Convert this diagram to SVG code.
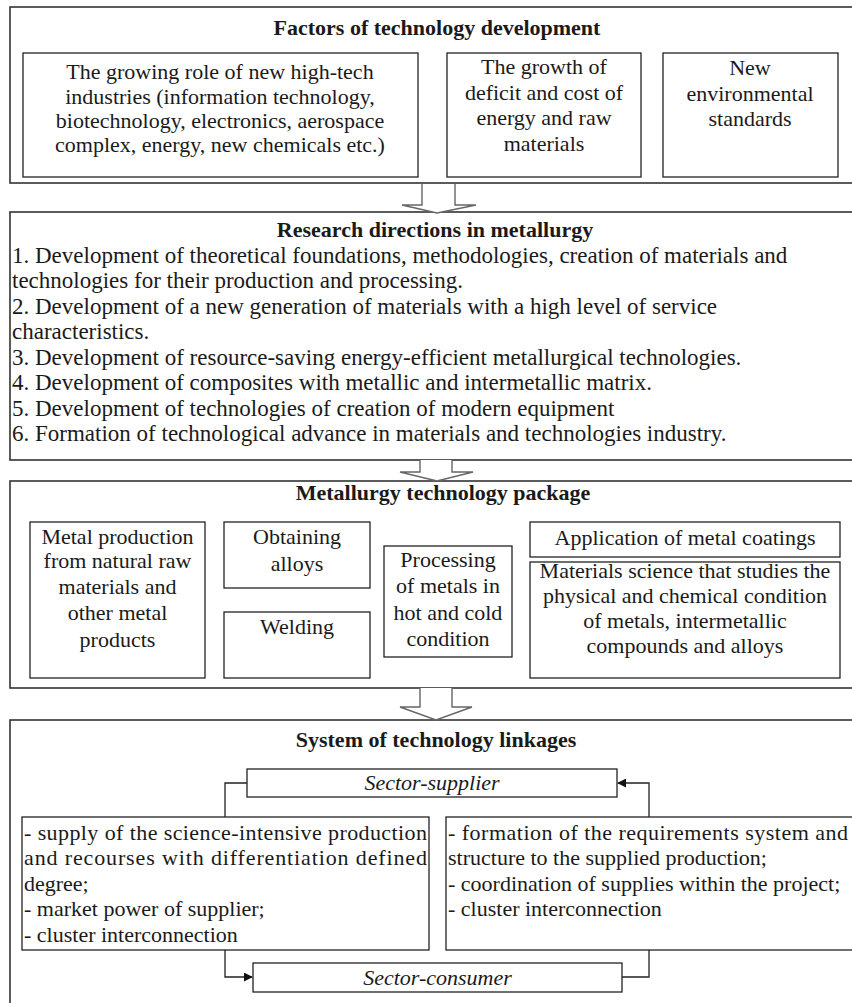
<svg xmlns="http://www.w3.org/2000/svg" width="852" height="1003" viewBox="0 0 852 1003" font-family="'Liberation Serif', Tinos, 'Times New Roman', 'DejaVu Serif', serif">
  <defs>
    <style>
      .panel { fill: #ffffff; stroke: #333333; stroke-width: 1.6; }
      .box { fill: #ffffff; stroke: #222222; stroke-width: 1.3; }
      text { font-family: 'Liberation Serif', Tinos, 'Times New Roman', 'DejaVu Serif', serif; font-size: 22px; fill: #1a1a1a; }
      .c { text-anchor: middle; }
      .h { font-weight: bold; }
      .i { font-style: italic; }
      .list { font-size: 23px; }
      .flow { fill: #ffffff; stroke: #666666; stroke-width: 1.4; }
      .link { fill: none; stroke: #222222; stroke-width: 1.3; }
    </style>
    <marker id="head" viewBox="0 0 10 10" refX="9" refY="5" markerWidth="9" markerHeight="9" markerUnits="userSpaceOnUse" orient="auto">
      <path d="M0,0 L10,5 L0,10 z" fill="#111111"/>
    </marker>
  </defs>

  <rect width="852" height="1003" fill="#ffffff"/>

  <!-- Panel 1: factors -->
  <g id="factors">
    <rect class="panel" x="10" y="7" width="850" height="176"/>
    <text class="c h" x="437" y="35">Factors of technology development</text>
    <g id="factor-hightech">
      <rect class="box" x="23" y="53" width="395" height="124"/>
      <text class="c" x="220" y="79">The growing role of new high-tech</text>
      <text class="c" x="220" y="103.5">industries (information technology,</text>
      <text class="c" x="220" y="128">biotechnology, electronics, aerospace</text>
      <text class="c" x="220" y="152">complex, energy, new chemicals etc.)</text>
    </g>
    <g id="factor-deficit">
      <rect class="box" x="447" y="53" width="194" height="124"/>
      <text class="c" x="544" y="74">The growth of</text>
      <text class="c" x="544" y="99.5">deficit and cost of</text>
      <text class="c" x="544" y="125">energy and raw</text>
      <text class="c" x="544" y="151">materials</text>
    </g>
    <g id="factor-environment">
      <rect class="box" x="663" y="53" width="175" height="124"/>
      <text class="c" x="750" y="75">New</text>
      <text class="c" x="750" y="100.5">environmental</text>
      <text class="c" x="750" y="126">standards</text>
    </g>
  </g>

  <!-- Panel 2: research directions -->
  <g id="research">
    <rect class="panel" x="10" y="212" width="850" height="248"/>
    <text class="c h" x="435" y="237">Research directions in metallurgy</text>
    <text class="list" x="12" y="262.5">1. Development of theoretical foundations, methodologies, creation of materials  and</text>
    <text class="list" x="12" y="288">technologies  for their production and processing.</text>
    <text class="list" x="12" y="313.5">2. Development of a new generation of materials  with a high level of service</text>
    <text class="list" x="12" y="339">characteristics.</text>
    <text class="list" x="12" y="364.5">3. Development of resource-saving  energy-efficient metallurgical  technologies.</text>
    <text class="list" x="12" y="390">4. Development of composites with metallic  and intermetallic  matrix.</text>
    <text class="list" x="12" y="415.5">5. Development of technologies of creation of modern equipment</text>
    <text class="list" x="12" y="441">6. Formation of technological advance in materials  and technologies industry.</text>
  </g>

  <!-- Panel 3: technology package -->
  <g id="package">
    <rect class="panel" x="10" y="481" width="850" height="207"/>
    <text class="c h" x="443" y="500">Metallurgy technology package</text>
    <g id="pkg-production">
      <rect class="box" x="30" y="522" width="175" height="156"/>
      <text class="c" x="117.5" y="543.5">Metal production</text>
      <text class="c" x="117.5" y="568">from natural raw</text>
      <text class="c" x="117.5" y="594">materials and</text>
      <text class="c" x="117.5" y="619.5">other metal</text>
      <text class="c" x="117.5" y="647">products</text>
    </g>
    <g id="pkg-alloys">
      <rect class="box" x="224" y="522" width="146" height="66"/>
      <text class="c" x="297" y="543.5">Obtaining</text>
      <text class="c" x="297" y="571">alloys</text>
    </g>
    <g id="pkg-welding">
      <rect class="box" x="224" y="612" width="146" height="66"/>
      <text class="c" x="297" y="633.5">Welding</text>
    </g>
    <g id="pkg-processing">
      <rect class="box" x="384" y="546" width="128" height="111"/>
      <text class="c" x="448" y="566.5">Processing</text>
      <text class="c" x="448" y="593">of metals in</text>
      <text class="c" x="448" y="619.5">hot and cold</text>
      <text class="c" x="448" y="646">condition</text>
    </g>
    <g id="pkg-coatings">
      <rect class="box" x="530" y="522" width="310" height="35"/>
      <text class="c" x="685" y="545">Application of metal coatings</text>
    </g>
    <g id="pkg-science">
      <rect class="box" x="530" y="562" width="310" height="116"/>
      <text class="c" x="685" y="578">Materials science that studies the</text>
      <text class="c" x="685" y="603">physical and chemical condition</text>
      <text class="c" x="685" y="628">of metals, intermetallic</text>
      <text class="c" x="685" y="653">compounds and alloys</text>
    </g>
  </g>

  <!-- Panel 4: linkages -->
  <g id="linkages">
    <rect class="panel" x="10" y="720" width="850" height="300"/>
    <text class="c h" x="436" y="747">System of technology linkages</text>
    <g id="sector-supplier">
      <rect class="box" x="247" y="769" width="370" height="28"/>
      <text class="c i" x="432" y="790">Sector-supplier</text>
    </g>
    <g id="supplier-side">
      <rect class="box" x="22" y="817" width="407" height="133"/>
      <text x="24" y="839.5" textLength="403" lengthAdjust="spacing">- supply of the science-intensive production</text>
      <text x="24" y="865" textLength="403" lengthAdjust="spacing">and recourses with differentiation defined</text>
      <text x="24" y="890.5">degree;</text>
      <text x="24" y="916">- market power of supplier;</text>
      <text x="24" y="941.5">- cluster interconnection</text>
    </g>
    <g id="consumer-side">
      <rect class="box" x="446" y="817" width="420" height="133"/>
      <text x="448" y="839.5" textLength="400" lengthAdjust="spacing">- formation of the requirements system and</text>
      <text x="448" y="865">structure to the supplied production;</text>
      <text x="448" y="890.5">- coordination of supplies within the project;</text>
      <text x="448" y="916">- cluster interconnection</text>
    </g>
    <g id="sector-consumer">
      <rect class="box" x="253" y="963" width="369" height="29"/>
      <text class="c i" x="437.5" y="984.5">Sector-consumer</text>
    </g>
  </g>

  <!-- Connectors -->
  <g id="connectors">
    <path class="flow" d="M422,184 V205 H402 L437,213 L476,205 H455 V184"/>
    <path class="flow" d="M420,460 V472 H400 L437,481 L473,472 H452 V460"/>
    <path class="flow" d="M420,688 V707 H400 L436,720 L472,707 H452 V688"/>
    <path class="link" d="M225,817 V783 H247"/>
    <path class="link" d="M649,817 V783 H618" marker-end="url(#head)"/>
    <path class="link" d="M225,950 V977 H252" marker-end="url(#head)"/>
    <path class="link" d="M622,977 H649 V950"/>
  </g>
</svg>
